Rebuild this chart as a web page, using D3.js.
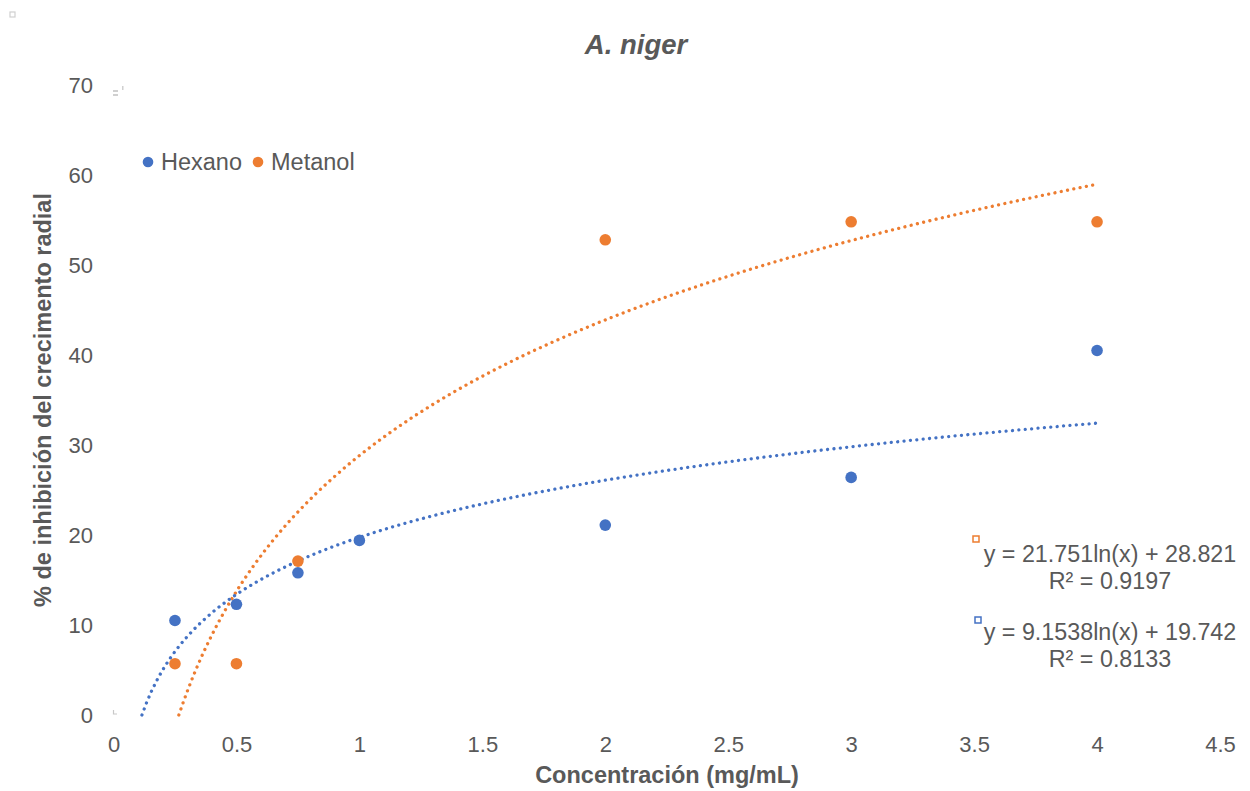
<!DOCTYPE html>
<html>
<head>
<meta charset="utf-8">
<script src="https://cdn.jsdelivr.net/npm/d3@7"></script>
<style>
  body { margin: 0; background: #fff; }
  text { font-family: "Liberation Sans", Arial, sans-serif; fill: #595959; }
</style>
</head>
<body>
<div id="chart"></div>
<script>
// data
const concentracion = [0.25, 0.5, 0.75, 1, 2, 3, 4];
const hexano = [10.5, 12.3, 15.8, 19.4, 21.1, 26.4, 40.5];
const metanolX = [0.25, 0.5, 0.75, 2, 3, 4];
const metanol = [5.7, 5.7, 17.1, 52.8, 54.8, 54.8];

// trend line coefficients (y = a ln(x) + b)
const trendHexano = { a: 9.1538, b: 19.742, r2: "0.8133" };
const trendMetanol = { a: 21.751, b: 28.821, r2: "0.9197" };

const xTicks = [0, 0.5, 1, 1.5, 2, 2.5, 3, 3.5, 4, 4.5];
const yTicks = [0, 10, 20, 30, 40, 50, 60, 70];

const blue = "#4472C4", orange = "#ED7D31";

const margin = { top: 85, right: 30, bottom: 76, left: 113.5 };

const svg = d3.select("#chart").append("svg")
  .attr("width", 1250).attr("height", 791);

const g = svg.append("g")
  .attr("transform", `translate(${margin.left}, ${margin.top})`);

const x = d3.scaleLinear().domain([0, 4.5]).range([0, 1220 - margin.left]);
const y = d3.scaleLinear().domain([0, 70]).range([715 - margin.top, 0]);

// axes (labels only, no lines)
const xAxis = g.append("g")
  .attr("transform", `translate(0, ${y(0)})`)
  .call(d3.axisBottom(x).tickValues(xTicks).tickSize(0).tickPadding(21).tickFormat(d3.format("")));
xAxis.select(".domain").remove();
xAxis.selectAll("text").style("font-size", "22px").attr("fill", "#595959")
  .style("font-family", "Liberation Sans, Arial, sans-serif");

const yAxis = g.append("g")
  .call(d3.axisLeft(y).tickValues(yTicks).tickSize(0).tickPadding(20.5));
yAxis.select(".domain").remove();
yAxis.selectAll("text").style("font-size", "22px").attr("fill", "#595959")
  .style("font-family", "Liberation Sans, Arial, sans-serif");

// trend lines
function trendPoints(t) {
  const x0 = Math.exp(-t.b / t.a);
  return d3.range(0, 201).map(i => {
    const xv = x0 + (4 - x0) * i / 200;
    return [xv, t.a * Math.log(xv) + t.b];
  });
}
const line = d3.line().x(d => x(d[0])).y(d => y(d[1]));

[[trendMetanol, orange], [trendHexano, blue]].forEach(([t, c]) => {
  g.append("path")
    .datum(trendPoints(t))
    .attr("d", line)
    .attr("fill", "none")
    .attr("stroke", c)
    .attr("stroke-width", 3.3)
    .attr("stroke-linecap", "round")
    .attr("stroke-dasharray", "0.01 6.4");
});

// points
g.selectAll(".hex").data(concentracion).enter().append("circle")
  .attr("cx", d => x(d))
  .attr("cy", (d, i) => y(hexano[i]))
  .attr("r", 5.8)
  .attr("fill", blue);

g.selectAll(".met").data(metanolX).enter().append("circle")
  .attr("cx", d => x(d))
  .attr("cy", (d, i) => y(metanol[i]))
  .attr("r", 5.8)
  .attr("fill", orange);

// title
svg.append("text")
  .attr("x", 636).attr("y", 54)
  .attr("text-anchor", "middle")
  .style("font-size", "27.5px").style("font-weight", "bold").style("font-style", "italic")
  .text("A. niger");

// axis titles
svg.append("text")
  .attr("x", 667).attr("y", 783)
  .attr("text-anchor", "middle")
  .style("font-size", "23.5px").style("font-weight", "bold")
  .text("Concentración (mg/mL)");

svg.append("text")
  .attr("transform", "translate(51, 400) rotate(-90)")
  .attr("text-anchor", "middle")
  .style("font-size", "23.5px").style("font-weight", "bold")
  .text("% de inhibición del crecimento radial");

// legend
const legend = [["Hexano", blue, 148], ["Metanol", orange, 258]];
legend.forEach(([name, c, lx]) => {
  svg.append("circle").attr("cx", lx).attr("cy", 162).attr("r", 5.3).attr("fill", c);
  svg.append("text").attr("x", lx + 13).attr("y", 170)
    .style("font-size", "23.5px").text(name);
});

// equation labels
const eqs = [
  [trendMetanol, orange, 562, 976, 539],
  [trendHexano, blue, 640, 978, 620]
];
eqs.forEach(([t, c, by, sx, sy]) => {
  svg.append("rect").attr("x", sx - 3).attr("y", sy - 3).attr("width", 6).attr("height", 6)
    .attr("fill", "none").attr("stroke", c).attr("stroke-width", 1.5);
  svg.append("text").attr("x", 1110).attr("y", by)
    .attr("text-anchor", "middle").style("font-size", "23.3px")
    .text(`y = ${t.a}ln(x) + ${t.b}`);
  svg.append("text").attr("x", 1110).attr("y", by + 27)
    .attr("text-anchor", "middle").style("font-size", "23.3px")
    .text(`R² = ${t.r2}`);
});

// small grey handles seen on the picture
svg.append("rect").attr("x", 10).attr("y", 12).attr("width", 5).attr("height", 5)
  .attr("fill", "none").attr("stroke", "#d0d0d0").attr("stroke-width", 1.2);
svg.append("rect").attr("x", 113).attr("y", 90).attr("width", 5).attr("height", 2).attr("fill", "#d0d0d0");
svg.append("rect").attr("x", 113).attr("y", 94).attr("width", 5).attr("height", 2).attr("fill", "#d0d0d0");
svg.append("rect").attr("x", 122).attr("y", 86).attr("width", 1.5).attr("height", 4).attr("fill", "#d0d0d0");
svg.append("path").attr("d", "M113.5,710 V714 H117").attr("fill", "none").attr("stroke", "#c8c8c8").attr("stroke-width", 1.2);
</script>
</body>
</html>
